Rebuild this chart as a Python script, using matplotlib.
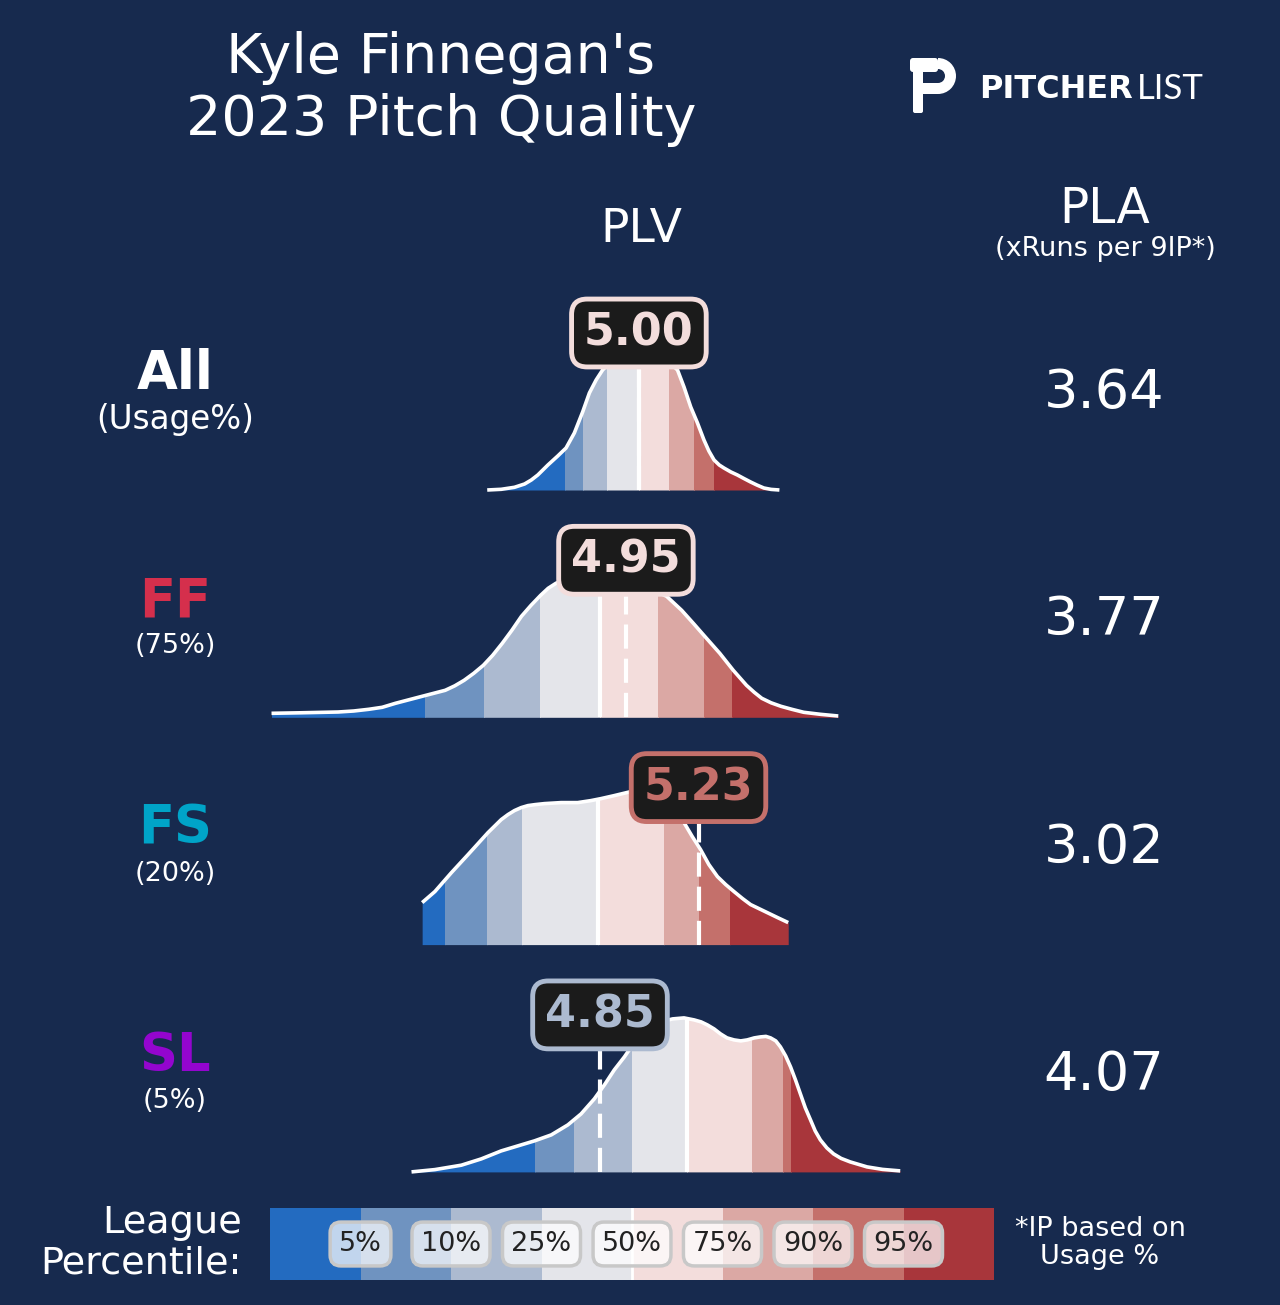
import numpy as np
import matplotlib
matplotlib.use("Agg")
import matplotlib.pyplot as plt
from matplotlib.patches import Rectangle, FancyBboxPatch, Wedge

# ---- data ----
pitch_names = ["All", "FF", "FS", "SL"]
pitch_usage = ["(Usage%)", "(75%)", "(20%)", "(5%)"]
pitch_colors = ["white", "#d52f4c", "#00a4c8", "#9405cf"]
plv_values = [5.00, 4.95, 5.23, 4.85]
pla_values = [3.64, 3.77, 3.02, 4.07]

# density curves (PLV on x, relative density on y)
all_x = [4.415, 4.469, 4.520, 4.559, 4.585, 4.610, 4.649, 4.687, 4.719, 4.751, 4.783,
         4.809, 4.835, 4.860, 4.89, 4.92, 4.96, 5.00, 5.04, 5.08, 5.12, 5.149, 5.174,
         5.200, 5.226, 5.251, 5.270, 5.290, 5.310, 5.328, 5.355, 5.380, 5.405, 5.431,
         5.455, 5.482, 5.510, 5.542]
all_y = [0.0, 0.007, 0.027, 0.06, 0.10, 0.15, 0.25, 0.34, 0.42, 0.57, 0.78,
         0.97, 1.10, 1.20, 1.28, 1.34, 1.38, 1.40, 1.38, 1.34, 1.27, 1.20, 1.03,
         0.83, 0.67, 0.50, 0.39, 0.30, 0.25, 0.22, 0.18, 0.15, 0.115, 0.08,
         0.05, 0.02, 0.006, 0.0]

ff_x = [3.583, 3.693, 3.840, 3.900, 3.958, 4.010, 4.061, 4.164, 4.253, 4.290, 4.326,
        4.363, 4.400, 4.436, 4.473, 4.510, 4.547, 4.584, 4.621, 4.650, 4.680, 4.724,
        4.76, 4.80, 4.85, 4.90, 4.95, 5.00, 5.05, 5.107, 5.165, 5.21, 5.254, 5.312,
        5.364, 5.415, 5.445, 5.474, 5.510, 5.548, 5.590, 5.636, 5.700, 5.769]
ff_y = [0.04, 0.045, 0.053, 0.063, 0.08, 0.10, 0.14, 0.21, 0.27, 0.315, 0.37,
        0.44, 0.52, 0.62, 0.74, 0.87, 1.01, 1.12, 1.22, 1.29, 1.34, 1.39,
        1.42, 1.44, 1.44, 1.42, 1.39, 1.34, 1.28, 1.21, 1.07, 0.94, 0.81, 0.64,
        0.47, 0.32, 0.25, 0.19, 0.145, 0.11, 0.08, 0.05, 0.03, 0.013]

fs_x = [4.164, 4.213, 4.277, 4.341, 4.418, 4.469, 4.495, 4.520, 4.546, 4.572, 4.600,
        4.636, 4.700, 4.764, 4.815, 4.854, 4.905, 4.969, 5.00, 5.03, 5.07, 5.10,
        5.140, 5.174, 5.206, 5.238, 5.270, 5.303, 5.335, 5.367, 5.400, 5.431,
        5.463, 5.495, 5.535, 5.576]
fs_y = [0.42, 0.53, 0.72, 0.90, 1.12, 1.25, 1.30, 1.34, 1.37, 1.39, 1.40,
        1.41, 1.42, 1.42, 1.44, 1.46, 1.49, 1.53, 1.55, 1.55, 1.51, 1.44,
        1.34, 1.22, 1.08, 0.95, 0.80, 0.68, 0.60, 0.53, 0.46, 0.40,
        0.36, 0.32, 0.27, 0.22]

sl_x = [4.123, 4.213, 4.315, 4.392, 4.469, 4.533, 4.597, 4.662, 4.726, 4.777, 4.828,
        4.867, 4.905, 4.944, 4.976, 5.008, 5.040, 5.072, 5.100, 5.130, 5.174, 5.213,
        5.240, 5.264, 5.290, 5.315, 5.340, 5.367, 5.393, 5.418, 5.445, 5.469, 5.490,
        5.508, 5.528, 5.546, 5.566, 5.585, 5.604, 5.623, 5.642, 5.662, 5.680, 5.700,
        5.725, 5.751, 5.780, 5.815, 5.880, 5.940, 6.008]
sl_y = [0.0, 0.023, 0.067, 0.13, 0.21, 0.26, 0.31, 0.37, 0.47, 0.58, 0.73,
        0.87, 1.02, 1.15, 1.27, 1.37, 1.44, 1.48, 1.51, 1.53, 1.54, 1.52,
        1.50, 1.47, 1.43, 1.38, 1.34, 1.32, 1.31, 1.32, 1.34, 1.35, 1.355,
        1.34, 1.31, 1.25, 1.16, 1.05, 0.92, 0.78, 0.64, 0.52, 0.41, 0.32,
        0.24, 0.18, 0.135, 0.10, 0.05, 0.025, 0.01]

# league percentile cut points (5, 10, 25, 50, 75, 90, 95) per pitch
all_pcts = [4.715, 4.785, 4.877, 5.000, 5.115, 5.212, 5.288]
ff_pcts = [4.176, 4.403, 4.618, 4.849, 5.073, 5.253, 5.361]
fs_pcts = [4.254, 4.415, 4.549, 4.841, 5.097, 5.230, 5.350]
sl_pcts = [4.600, 4.749, 4.973, 5.185, 5.435, 5.557, 5.585]

pct_labels = ["5%", "10%", "25%", "50%", "75%", "90%", "95%"]
band_colors = ["#236bc0", "#6f93c0", "#acbad0", "#e4e5ea",
               "#f3dddc", "#dba8a4", "#c4706b", "#a8363b"]

curves = [(all_x, all_y, all_pcts), (ff_x, ff_y, ff_pcts),
          (fs_x, fs_y, fs_pcts), (sl_x, sl_y, sl_pcts)]

bg = "#172a4e"
W, H = 1280, 1305

fig = plt.figure(figsize=(12.8, 13.05), dpi=100, facecolor=bg)


def fx(px):
    return px / W


def fy(py):
    return 1 - py / H


# titles / headers
fig.text(fx(441), fy(89), "Kyle Finnegan's\n2023 Pitch Quality", ha="center", va="center",
         fontsize=40, color="white", linespacing=1.2)
fig.text(fx(641), fy(230), "PLV", ha="center", va="center", fontsize=34, color="white")
fig.text(fx(1105), fy(209), "PLA", ha="center", va="center", fontsize=35, color="white")
fig.text(fx(1105), fy(249), "(xRuns per 9IP*)", ha="center", va="center", fontsize=19.5, color="white")

# logo
lax = fig.add_axes([fx(905), fy(116), 60 / W, 62 / H])
lax.set_xlim(0, 60)
lax.set_ylim(0, 62)
lax.axis("off")
lax.add_patch(FancyBboxPatch((8, 3), 10, 46, boxstyle="round,pad=0,rounding_size=2",
                             fc="white", ec="none"))
lax.add_patch(FancyBboxPatch((5, 44), 28, 14, boxstyle="round,pad=0,rounding_size=3",
                             fc="white", ec="none"))
lax.add_patch(Wedge((33, 40), 18, -90, 90, width=11, fc="white", ec="none"))
lax.add_patch(Rectangle((18, 22), 15, 11, fc="white", ec="none"))
fig.text(fx(979), fy(89), "PITCHER", ha="left", va="center", fontsize=23,
         fontweight="bold", color="white", family="DejaVu Sans")
fig.text(fx(1137), fy(89), "LIST", ha="left", va="center", fontsize=25,
         fontweight="normal", color="white", family="Lato")

# ---- rows ----
x_lo, x_hi = 3.5, 6.2
ax_left, ax_w = 250, 700
row_gap = 227.3
for i, ((xs, ys, pcts), name, usage, pcol, val, pla) in enumerate(
        zip(curves, pitch_names, pitch_usage, pitch_colors, plv_values, pla_values)):
    base = 490 + i * row_gap
    ax = fig.add_axes([fx(ax_left), fy(base), ax_w / W, 200 / H])
    ax.set_xlim(x_lo, x_hi)
    ax.set_ylim(0, 2.0)
    ax.axis("off")
    xs = np.array(xs)
    ys = np.array(ys)
    edges = [xs[0] - 1] + list(pcts) + [xs[-1] + 1]
    for k in range(8):
        poly = ax.fill_between(xs, 0, ys, color=band_colors[k], lw=0, zorder=1)
        clip = Rectangle((edges[k], -1), edges[k + 1] - edges[k], 5, transform=ax.transData)
        poly.set_clip_path(clip)
    ax.plot(xs, ys, color="white", lw=2.6, zorder=3, clip_on=False,
            solid_capstyle="butt", solid_joinstyle="round")
    med = pcts[3]
    ax.vlines(med, 0, np.interp(med, xs, ys), color="white", lw=3, zorder=2)
    # value label colour = band the value falls in
    band = int(np.searchsorted(pcts, val + 1e-6))
    lab_col = band_colors[band]
    ax.plot([val, val], [0, 1.5], color="white", lw=3, ls=(0, (5.8, 2.4)), zorder=4)
    ax.text(val, 1.57, f"{val:.2f}", ha="center", va="center", fontsize=32,
            fontweight="bold", color=lab_col, zorder=6,
            bbox=dict(boxstyle="round,pad=0.28,rounding_size=0.35", fc="#1b1b1b",
                      ec=lab_col, lw=3.5))

    # left label and PLA value
    fig.text(fx(175), fy(base - 116), name, ha="center", va="center", fontsize=38,
             fontweight="bold", color=pcol)
    fig.text(fx(175), fy(base - 71), usage, ha="center", va="center",
             fontsize=23.5 if i == 0 else 19.5, color="white")
    fig.text(fx(1104), fy(base - 97), f"{pla:.2f}", ha="center", va="center",
             fontsize=39, color="white")

# ---- legend bar ----
bax = fig.add_axes([fx(270), fy(1280), 724 / W, 72 / H])
bax.bar(np.arange(8) + 0.5, np.ones(8), width=1.0, color=band_colors, lw=0)
bax.set_xlim(0, 8)
bax.set_ylim(0, 1)
bax.axis("off")
bax.axvline(4, color="white", lw=2)
for k, lab in enumerate(pct_labels):
    bax.text(k + 1, 0.5, lab, ha="center", va="center", fontsize=19.5, color="#222222",
             bbox=dict(boxstyle="round,pad=0.33,rounding_size=0.4", fc=(1, 1, 1, 0.72),
                       ec="#c8c8c8", lw=2.5))

fig.text(fx(242), fy(1243), "League\nPercentile:", ha="right", va="center",
         fontsize=27.5, color="white", linespacing=1.15)
fig.text(fx(1100), fy(1243), "*IP based on\nUsage %", ha="center", va="center",
         fontsize=19.5, color="white", linespacing=1.15)

fig.savefig("out.png", dpi=100, facecolor=bg)
